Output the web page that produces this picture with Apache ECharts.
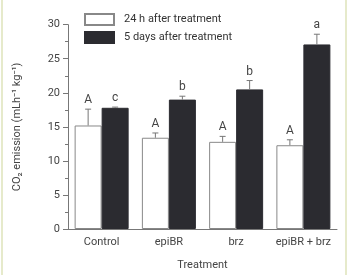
<!DOCTYPE html>
<html>
<head>
<meta charset="utf-8">
<script src="https://cdn.jsdelivr.net/npm/echarts@6/dist/echarts.min.js"></script>
<style>
  html, body { margin: 0; padding: 0; background: #fff; }
  #chart { width: 349px; height: 275px; }
</style>
</head>
<body>
<div id="chart"></div>
<script>
// 数据
const categories = ['Control', 'epiBR', 'brz', 'epiBR + brz']
const seriesNames = ['24 h after treatment', '5 days after treatment']
const values24h = [15.2, 13.4, 12.8, 12.3]
const errTop24h = [17.6, 14.1, 13.6, 13.1]
const letters24h = ['A', 'A', 'A', 'A']
const values5d = [17.8, 19.0, 20.5, 27.1]
const errTop5d = [17.9, 19.5, 21.8, 28.6]
const letters5d = ['c', 'b', 'b', 'a']

const barW = 27
const font = 'Roboto, "Noto Sans", sans-serif'

// 误差线 + 字母标记
const errorSeries = (tops, letters, shift) => ({
  type: 'custom',
  silent: true,
  z: 5,
  data: tops.map((t, i) => [i, t]),
  renderItem: (params, api) => {
    const p = api.coord([api.value(0), api.value(1)])
    const x = p[0] + shift
    const idx = params.dataIndex
    const barVal = shift < 0 ? values24h[idx] : values5d[idx]
    const yBar = api.coord([idx, barVal])[1]
    return {
      type: 'group',
      children: [
        { type: 'line', shape: { x1: x, y1: yBar, x2: x, y2: p[1] }, style: { stroke: '#777', lineWidth: 1 } },
        { type: 'line', shape: { x1: x - 3, y1: p[1], x2: x + 3, y2: p[1] }, style: { stroke: '#777', lineWidth: 1 } },
        { type: 'text', style: { text: letters[idx], x: x, y: p[1] - 3, align: 'center', verticalAlign: 'bottom', fill: '#444', font: '12px ' + font } }
      ]
    }
  }
})

const chart = echarts.init(document.getElementById('chart'))
chart.setOption({
  animation: false,
  graphic: [
    { type: 'rect', shape: { x: 1, y: 0, width: 2, height: 275 }, style: { fill: '#e6eacb' } },
    { type: 'rect', shape: { x: 345, y: 0, width: 2, height: 275 }, style: { fill: '#e6eacb' } }
  ],
  legend: {
    orient: 'vertical',
    left: 79,
    top: 8,
    itemWidth: 29,
    itemHeight: 11,
    itemGap: 5,
    icon: 'rect',
    textStyle: { fontSize: 11, color: '#333', fontFamily: font, padding: [0, 0, 0, 5] },
    data: seriesNames
  },
  grid: { left: 68, right: 12, top: 24.7, bottom: 46, outerBoundsMode: 'none' },
  xAxis: {
    type: 'category',
    data: categories,
    name: 'Treatment',
    nameLocation: 'middle',
    nameGap: 31,
    nameTextStyle: { fontSize: 11, color: '#444', fontFamily: font },
    axisLine: { lineStyle: { color: '#777' } },
    axisTick: { alignWithLabel: true, length: 3, lineStyle: { color: '#777' } },
    axisLabel: { interval: 0, fontSize: 11, color: '#444', margin: 8, fontFamily: font }
  },
  yAxis: {
    type: 'value',
    min: 0,
    max: 30,
    interval: 5,
    name: 'CO₂ emission (mLh⁻¹ kg⁻¹)',
    nameLocation: 'middle',
    nameGap: 45,
    nameTextStyle: { fontSize: 11, color: '#444', fontFamily: font },
    axisLine: { show: true, lineStyle: { color: '#777' } },
    axisTick: { show: true, length: 5, lineStyle: { color: '#777' } },
    minorTick: { show: true, splitNumber: 2, length: 3, lineStyle: { color: '#777' } },
    splitLine: { show: false },
    axisLabel: { fontSize: 11, color: '#444', margin: 8, fontFamily: font }
  },
  series: [
    {
      name: seriesNames[0],
      type: 'bar',
      data: values24h,
      barWidth: barW,
      barGap: '0%',
      itemStyle: { color: '#fff', borderColor: '#888', borderWidth: 1 }
    },
    {
      name: seriesNames[1],
      type: 'bar',
      data: values5d,
      barWidth: barW,
      barGap: '0%',
      itemStyle: { color: '#2b2b30', borderColor: '#2b2b30', borderWidth: 1 }
    },
    errorSeries(errTop24h, letters24h, -barW / 2),
    errorSeries(errTop5d, letters5d, barW / 2)
  ]
})
</script>
</body>
</html>
